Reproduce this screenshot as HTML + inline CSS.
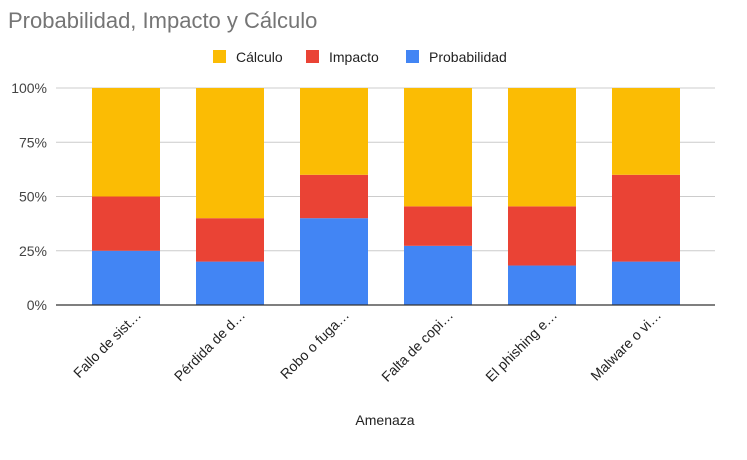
<!DOCTYPE html>
<html><head><meta charset="utf-8"><style>
body{margin:0;background:#fff;font-family:"Liberation Sans",Arial,sans-serif}
svg text{font-family:"Liberation Sans",Arial,sans-serif}
</style></head><body>
<svg id="c" width="747" height="455">
<text x="8" y="28" font-size="22" fill="#757575">Probabilidad, Impacto y Cálculo</text>
<g>
<rect x="213" y="50" width="13" height="13" fill="#fbbc04"/>
<text x="236" y="62" font-size="14" fill="#222">Cálculo</text>
<rect x="306" y="50" width="13" height="13" fill="#ea4335"/>
<text x="329" y="62" font-size="14" fill="#222">Impacto</text>
<rect x="406" y="50" width="13" height="13" fill="#4285f4"/>
<text x="429" y="62" font-size="14" fill="#222">Probabilidad</text>
</g>
<g id="grid"></g><g id="bars"></g><g id="labels"></g>
<line x1="56" x2="715" y1="305" y2="305" stroke="#333" stroke-width="1.2"/>
<text x="385" y="425" font-size="14" fill="#222" text-anchor="middle">Amenaza</text>
</svg>
<script>
const categories=["Fallo de sist…","Pérdida de d…","Robo o fuga…","Falta de copi…","El phishing e…","Malware o vi…"];
const probabilidad=[1,1,2,3,2,1];
const impacto=[1,1,1,2,3,2];
const calculo=[2,3,2,6,6,2];
const ticks=["0%","25%","50%","75%","100%"];
const NS="http://www.w3.org/2000/svg";
const y0=305,y1=88,x0=126,step=104,bw=68;
const y=p=>y0-(y0-y1)*p;
const x=i=>x0+i*step;
function mk(t,a,p){const e=document.createElementNS(NS,t);for(const k in a)e.setAttribute(k,a[k]);p.appendChild(e);return e;}
const g=document.getElementById('grid');
ticks.forEach((t,i)=>{const p=i/(ticks.length-1);
 const l=mk('line',{x1:56,x2:715,y1:y(p),y2:y(p),stroke:'#ccc'},g);
 
 
 const tx=mk('text',{x:47,y:y(p)+5,'font-size':14,fill:'#444','text-anchor':'end'},g);tx.textContent=t;
 
 
});
const b=document.getElementById('bars'),lb=document.getElementById('labels');
const series=[[probabilidad,'#4285f4','probabilidad'],[impacto,'#ea4335','impacto'],[calculo,'#fbbc04','calculo']];
categories.forEach((c,i)=>{
 const tot=probabilidad[i]+impacto[i]+calculo[i];let acc=0;
 series.forEach(([arr,col,nm])=>{const v=arr[i]/tot;
  const r=mk('rect',{x:x(i)-bw/2,y:y(acc+v),width:bw,height:y(acc)-y(acc+v),fill:col},b);
  
  
  acc+=v;});
 const t=mk('text',{x:x(i)+16,y:316,'font-size':14,fill:'#222','text-anchor':'end',transform:`rotate(-45 ${x(i)+16} 316)`},lb);
 t.textContent=c;
 
 
});
</script>
</body></html>
